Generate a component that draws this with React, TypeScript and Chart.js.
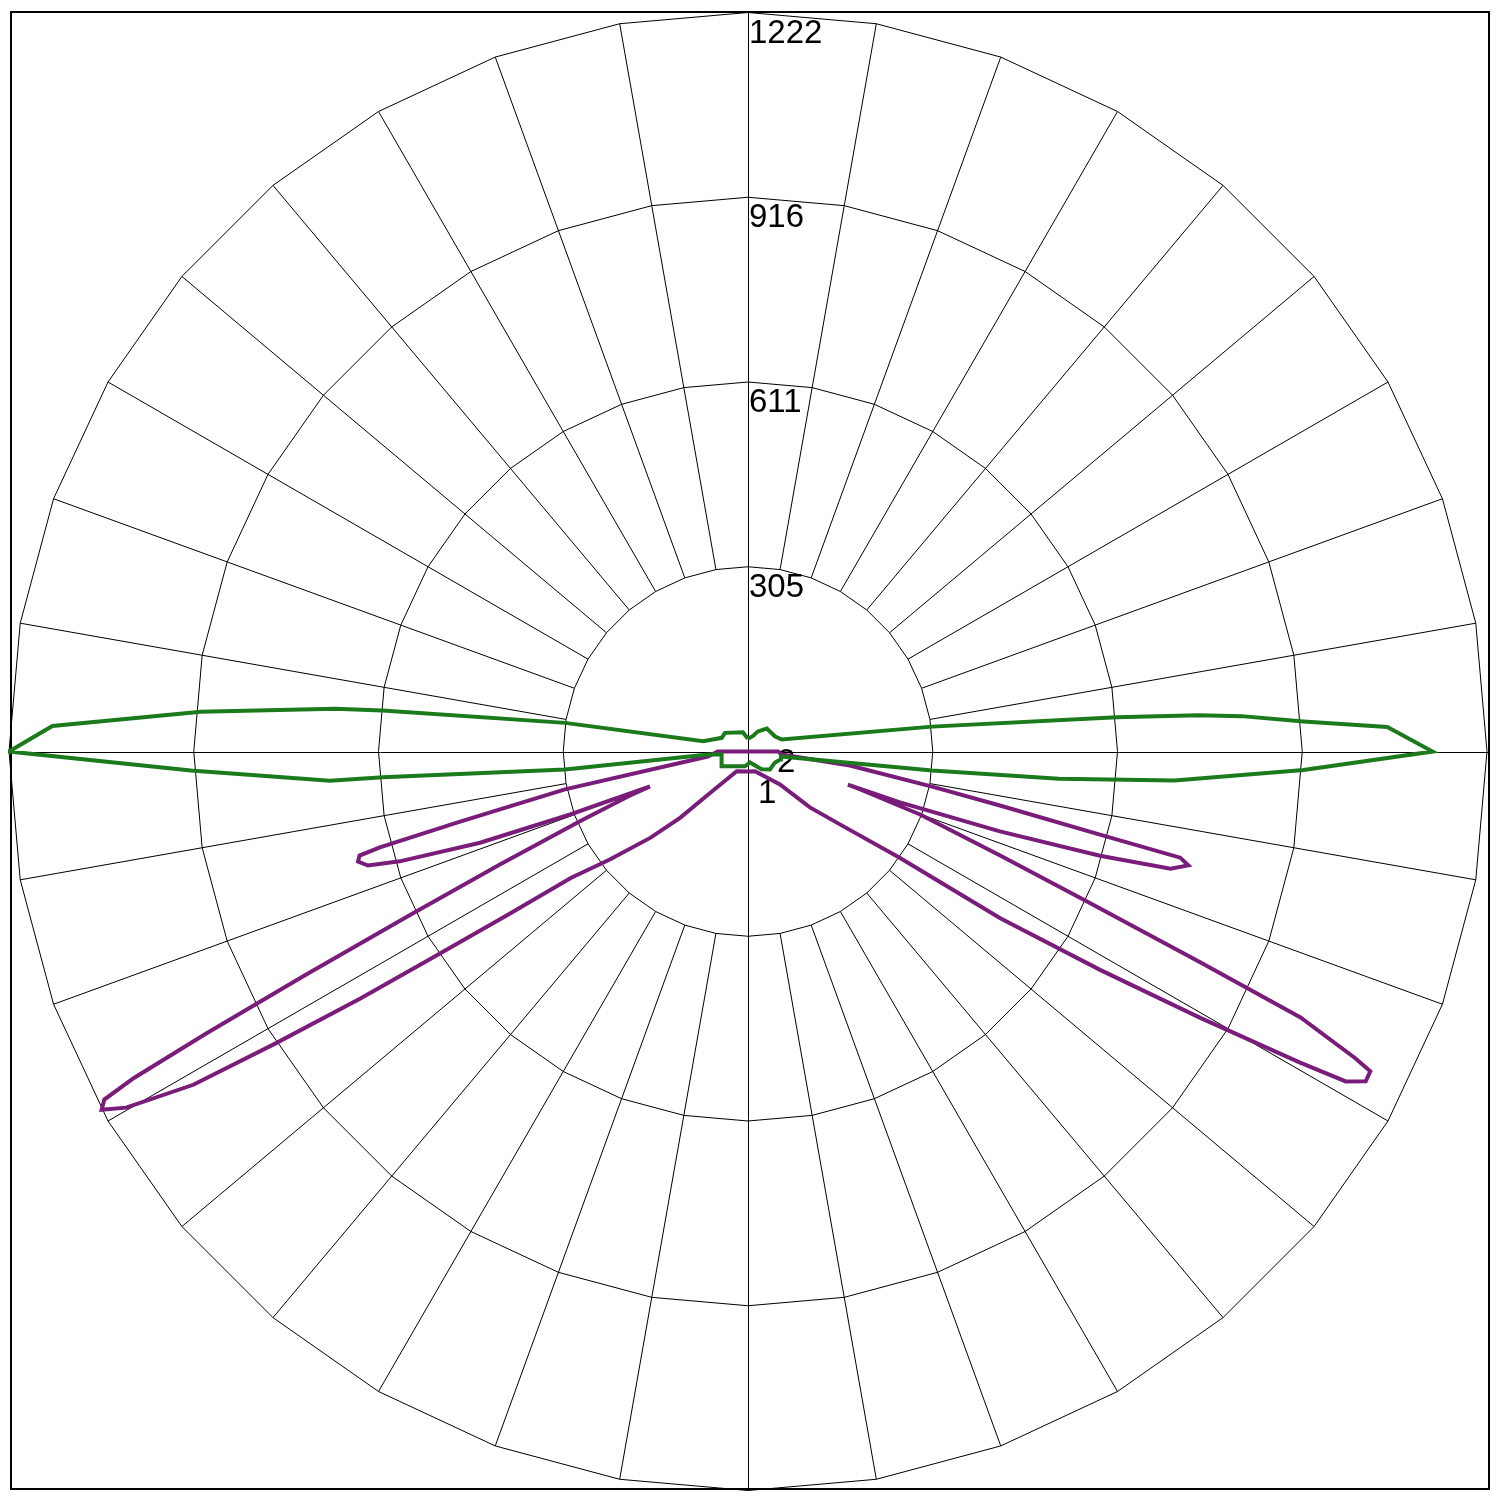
import React, { useEffect, useRef } from 'react';
import { Chart, registerables } from 'chart.js';

Chart.register(...registerables);

// ---- data -------------------------------------------------------------
const maxIntensity = 1222;
const ringValues = [305.5, 611, 916.5, 1222];
const ringLabels = ['305', '611', '916', '1222'];
const gridStepDeg = 10;
const curveLabels = ['1', '2'];

// curve "2" (green): gamma angle in degrees (0 = nadir, + = right half), intensity in cd
const curve2Angles = [
  -180, -165, -129, -117.5, -102.9, -98.9, -96.4, -95.9, -94.15, -92.1,
  -90, -88.05, -86.0, -85.97, -84.4, -85.7, -83.5, -60.8, -11.5, 10.3,
  37.3, 50.7, 67.3, 76, 81.4, 84.1, 85.0, 86.1, 88.1, 90,
  92.2, 93.1, 94.1, 94.6, 95.3, 97.7, 109.7, 119.5, 140.5, 153.8,
  161.9, 180,
];
const curve2Values = [
  21, 33, 49, 49, 76, 306, 608, 687, 907, 1151,
  1222, 922, 693, 605, 304, 66, 44, 50, 25, 18.5,
  37, 47, 48, 55, 55, 306, 516, 707, 919, 1132,
  1058, 920, 818, 747, 612, 307, 59, 51, 49, 37,
  27, 21,
];

// curve "1" (purple)
const curve1Angles = [
  -180, -91, -90, -82.9, -78.3, -76.3, -75.4, -75.0, -74.25, -73.3,
  -72.5, -71.2, -70.5, -70.4, -69.5, -67.5, -65.5, -64.2, -63.2, -62.5,
  -62.0, -61.6, -61.0, -60.2, -59.0, -58.3, -57.5, -56.8, -55.8, -54.5,
  -52.0, -48.5, -45.7, -42.4, -29.8, 0, 19.6, 44.1, 47.9, 51.6,
  55.0, 56.55, 58.2, 59.5, 60.6, 61.1, 61.9, 62.8,
  63.2, 64.3, 65.0, 66.2, 67.6, 69.9, 71.3, 71.7, 71.5, 72.4,
  73.5, 74.5, 75.5, 76.2, 76.7, 77.9, 79.2, 82.2, 84.9, 90,
  91, 180,
];
const curve1Values = [
  0, 0, 50, 67, 309, 490, 629, 665, 670, 656,
  604, 468, 312, 172, 210, 300, 450, 620, 820, 1010,
  1150, 1210, 1222, 1185, 1070, 920, 760, 620, 480, 360,
  290, 215, 157, 93, 37.6, 33, 34.6, 76, 138, 194,
  307, 500, 686, 868, 1048, 1129, 1158, 1157,
  1125, 1014, 825, 606, 451, 303, 196, 174, 265, 437,
  607, 725, 752, 736, 598, 426, 310, 170, 56, 50,
  0, 0,
];

const toXY = (angles: number[], values: number[]) =>
  angles.map((a, i) => {
    const t = (a * Math.PI) / 180;
    return { x: values[i] * Math.sin(t), y: -values[i] * Math.cos(t) };
  });

// ---- polar grid plugin ---------------------------------------------------
const polarGrid = {
  id: 'polarGrid',
  beforeDatasetsDraw(chart: any) {
    const { ctx } = chart;
    const xs = chart.scales.x;
    const ys = chart.scales.y;
    const cx = xs.getPixelForValue(0);
    const cy = ys.getPixelForValue(0);
    const rad = (v: number) => xs.getPixelForValue(v) - cx;
    ctx.save();
    ctx.strokeStyle = '#000';
    ctx.lineWidth = 1;
    // rings (polygons with a vertex every grid step)
    for (const v of ringValues) {
      const r = rad(v);
      ctx.beginPath();
      for (let a = 0; a <= 360; a += gridStepDeg) {
        const t = (a * Math.PI) / 180;
        const px = cx + r * Math.sin(t);
        const py = cy + r * Math.cos(t);
        if (a === 0) ctx.moveTo(px, py);
        else ctx.lineTo(px, py);
      }
      ctx.closePath();
      ctx.stroke();
    }
    // spokes from the inner ring to the outer ring
    const r0 = rad(ringValues[0]);
    const r1 = rad(ringValues[ringValues.length - 1]);
    ctx.beginPath();
    for (let a = 0; a < 360; a += gridStepDeg) {
      if (a % 90 === 0) continue;
      const t = (a * Math.PI) / 180;
      ctx.moveTo(cx + r0 * Math.sin(t), cy + r0 * Math.cos(t));
      ctx.lineTo(cx + r1 * Math.sin(t), cy + r1 * Math.cos(t));
    }
    ctx.stroke();
    // frame and main axes
    const fL = 3, fT = 4, fR = 1481, fB = 1481;
    ctx.beginPath();
    ctx.moveTo(Math.round(cx) + 0.5, fT);
    ctx.lineTo(Math.round(cx) + 0.5, fB);
    ctx.moveTo(fL, Math.round(cy) + 0.5);
    ctx.lineTo(fR, Math.round(cy) + 0.5);
    ctx.stroke();
    ctx.lineWidth = 2;
    ctx.strokeRect(fL, fT, fR - fL, fB - fT);
    // ring labels
    ctx.fillStyle = '#000';
    ctx.font = '33px "Liberation Sans", Arial, sans-serif';
    ctx.textAlign = 'left';
    ctx.textBaseline = 'alphabetic';
    ringValues.forEach((v, i) => {
      ctx.fillText(ringLabels[i], cx + 1, cy - rad(v) + 30);
    });
    // curve labels
    ctx.fillText(curveLabels[0], cx + 10, cy + 51);
    ctx.fillText(curveLabels[1], cx + 29, cy + 20.5);
    ctx.restore();
  },
};

export default function App() {
  const ref = useRef<HTMLCanvasElement>(null);
  useEffect(() => {
    const canvas = ref.current;
    if (!canvas) return;
    const chart = new Chart(canvas, {
      type: 'scatter',
      data: {
        datasets: [
          {
            label: curveLabels[1],
            data: toXY(curve2Angles, curve2Values),
            showLine: true,
            borderColor: '#1b7a1b',
            borderWidth: 4,
            pointRadius: 0,
            fill: false,
            tension: 0,
            clip: false,
          } as any,
          {
            label: curveLabels[0],
            data: toXY(curve1Angles, curve1Values),
            showLine: true,
            borderColor: '#7a1c7a',
            borderWidth: 4,
            pointRadius: 0,
            fill: false,
            tension: 0,
            clip: false,
          } as any,
        ],
      },
      options: {
        responsive: false,
        maintainAspectRatio: false,
        animation: false,
        devicePixelRatio: 1,
        events: [],
        layout: { padding: { left: 1, top: 4.5, right: 5, bottom: 12.5 } },
        plugins: { legend: { display: false }, tooltip: { enabled: false } },
        scales: {
          x: { type: 'linear', min: -maxIntensity, max: maxIntensity, display: false },
          y: { type: 'linear', min: -maxIntensity, max: maxIntensity, display: false },
        },
      },
      plugins: [polarGrid],
    });
    return () => chart.destroy();
  }, []);
  return (
    <canvas
      ref={ref}
      width={1484}
      height={1495}
      style={{ display: 'block', width: 1484, height: 1495 }}
    />
  );
}
